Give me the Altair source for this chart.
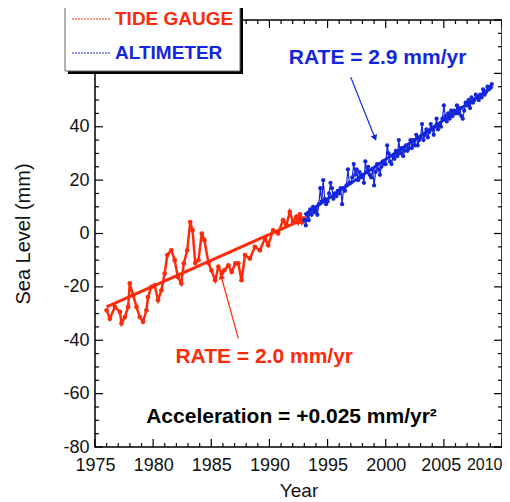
import altair as alt
import pandas as pd

W, H = 407, 427
RED = "#ff2a0a"
BLUE = "#1426dc"
FONT = "Liberation Sans"

# ---- tide gauge record (year, mm) ----
TG_YEARS = [1976.00, 1976.28, 1976.71, 1977.14, 1977.28, 1977.57, 1977.85, 1977.99,
            1978.28, 1978.57, 1978.85, 1979.13, 1979.42, 1979.56, 1979.84, 1980.13,
            1980.42, 1980.71, 1980.99, 1981.22, 1981.56, 1981.85, 1982.13, 1982.42,
            1982.64, 1982.93, 1983.19, 1983.39, 1983.62, 1983.90, 1984.18, 1984.41,
            1984.76, 1985.01, 1985.33, 1985.61, 1985.89, 1986.12, 1986.47, 1986.75,
            1987.07, 1987.32, 1987.60, 1987.90, 1988.32, 1988.75, 1989.18, 1989.61,
            1989.89, 1990.32, 1990.75, 1991.17, 1991.46, 1991.75, 1992.03, 1992.31,
            1992.46, 1992.63, 1992.80, 1992.97]
TG_MM = [-28.8, -31.9, -27.5, -29.4, -33.7, -31.3, -27.5, -18.7,
         -23.1, -27.5, -31.3, -33.1, -28.8, -23.8, -20.0, -19.4,
         -25.0, -21.3, -15.0, -8.1, -6.3, -10.0, -16.3, -18.7,
         -11.2, -6.3, 4.3, 1.2, -11.1, -10.0, 0.0, -2.5,
         -11.1, -13.8, -17.5, -12.5, -15.0, -13.8, -11.9, -14.4,
         -11.2, -11.2, -17.5, -8.1, -9.4, -5.0, -6.3, -1.9,
         -4.4, 1.2, 0.0, 5.0, 3.1, 8.1, 4.3, 6.2,
         4.2, 7.2, 4.2, 5.7]

# ---- altimeter record: 8 samples per year from 1993.0 ----
ALT_START = 1993.0
ALT_STEP = 0.125
ALT_MM = [5, 3, 7, 5, 9, 7, 10, 8,           # 1993
          9, 7, 11, 17, 12, 20, 13, 11,      # 1994
          12, 15, 19, 17, 13, 15, 14, 16,    # 1995
          15, 17, 11, 17, 16, 18, 24, 19,    # 1996
          19, 21, 26, 22, 24, 20, 23, 21,    # 1997
          22, 19, 27, 23, 25, 22, 21, 24,    # 1998
          18, 23, 26, 24, 22, 25, 27, 26,    # 1999
          26, 33, 30, 27, 26, 29, 28, 31,    # 2000
          29, 35, 30, 32, 29, 31, 33, 31,    # 2001
          32, 35, 32, 35, 33, 37, 33, 35,    # 2002
          36, 41, 35, 37, 39, 36, 38, 41,    # 2003
          39, 37, 40, 43, 39, 41, 40, 43,    # 2004
          48, 44, 42, 45, 43, 46, 44, 46,    # 2005
          45, 48, 45, 47, 44, 43, 46, 49,    # 2006
          48, 50, 47, 51, 49, 50, 52, 51,    # 2007
          50, 52, 51, 54, 52, 53, 55, 54,    # 2008
          55, 56]                            # 2009

# ---- fitted trend lines (end points) ----
TG_FIT_YEARS = [1976.0, 1993.0]
TG_FIT_MM = [-27.5, 5.5]
ALT_FIT_YEARS = [1993.0, 2009.2]
ALT_FIT_MM = [7.0, 55.0]

# ---- axes ----
X_LABELS = [1975, 1980, 1985, 1990, 1995, 2000, 2005, 2010]
X_MINOR = list(range(1975, 2011))
Y_LABELS = [-80, -60, -40, -20, 0, 20, 40]
Y_MAJOR = [-80, -60, -40, -20, 0, 20, 40, 60, 80]
Y_MINOR = list(range(-80, 81, 5))

# ---- annotations ----
ANN_TEXT = ["RATE = 2.9 mm/yr", "RATE = 2.0 mm/yr", "Acceleration = +0.025 mm/yr²"]
ANN_X = [1999.3, 1989.55, 1991.9]
ANN_Y = [65.7, -46.4, -68.6]
ANN_COLOR = [BLUE, RED, "#000000"]

ARROW_X = [1996.99, 1987.32]
ARROW_Y = [58.6, -39.3]
ARROW_X2 = [1999.05, 1985.87]
ARROW_Y2 = [36.1, -16.4]
ARROW_ANGLE = [158, 344]
ARROW_COLOR = [BLUE, RED]

xs = alt.Scale(domain=[1975, 2010], nice=False, zero=False)
ys = alt.Scale(domain=[-80, 80], nice=False, zero=False)
xaxis = alt.Axis(title="Year", values=X_LABELS, labelExpr="'' + datum.value",
                 labelOverlap=False, labelFlush=False, labelPadding=9,
                 labelAlign=alt.ConditionalAxisLabelAlign(
                     condition={"test": "datum.value >= 2010", "value": "right"},
                     value="center"),
                 labelFontSize=alt.ConditionalAxisNumber(
                     condition={"test": "datum.value >= 2010", "value": 16},
                     value=18),
                 labelOffset=alt.ConditionalAxisNumber(
                     condition={"test": "datum.value == 2005", "value": -3},
                     value=0),
                 titlePadding=7, titleFontSize=19)
yaxis = alt.Axis(title="Sea Level (mm)", values=Y_LABELS, labelExpr="'' + datum.value",
                 labelOverlap=False, labelFlush=False, labelPadding=6,
                 titlePadding=29, labelFontSize=18, titleFontSize=20)


def ex(f="x"):
    return alt.X(f"{f}:Q", scale=xs, axis=xaxis)


def ey(f="y"):
    return alt.Y(f"{f}:Q", scale=ys, axis=yaxis)


tg = pd.DataFrame({"x": TG_YEARS, "y": TG_MM})
alt_df = pd.DataFrame({"x": [ALT_START + i * ALT_STEP for i in range(len(ALT_MM))], "y": ALT_MM})
tg_fit = pd.DataFrame({"x": TG_FIT_YEARS, "y": TG_FIT_MM})
alt_fit = pd.DataFrame({"x": ALT_FIT_YEARS, "y": ALT_FIT_MM})

xmaj = pd.DataFrame({"x": X_LABELS})
xmin = pd.DataFrame({"x": [v for v in X_MINOR if v not in X_LABELS]})
ymaj = pd.DataFrame({"y": Y_MAJOR})
ymin = pd.DataFrame({"y": [v for v in Y_MINOR if v not in Y_MAJOR]})

layers = []
# fit lines and data
layers.append(alt.Chart(tg).mark_line(color=RED, strokeWidth=2.5).encode(x=ex(), y=ey()))
layers.append(alt.Chart(tg_fit).mark_line(color=RED, strokeWidth=3).encode(x=ex(), y=ey()))
layers.append(alt.Chart(tg).mark_point(color=RED, filled=True, size=22, opacity=1).encode(x=ex(), y=ey()))
layers.append(alt.Chart(alt_fit).mark_line(color=BLUE, strokeWidth=3).encode(x=ex(), y=ey()))
layers.append(alt.Chart(alt_df).mark_line(color=BLUE, strokeWidth=1.2).encode(x=ex(), y=ey()))
layers.append(alt.Chart(alt_df).mark_point(color=BLUE, filled=True, size=18, opacity=1).encode(x=ex(), y=ey()))

# inward ticks on all four sides
for df, ln in [(xmaj, 8), (xmin, 4)]:
    layers.append(alt.Chart(df).mark_rule(color="black", strokeWidth=1.2).encode(
        x=ex(), y=alt.value(H), y2=alt.value(H - ln)))
    layers.append(alt.Chart(df).mark_rule(color="black", strokeWidth=1.2).encode(
        x=ex(), y=alt.value(0), y2=alt.value(ln)))
for df, ln in [(ymaj, 8), (ymin, 4)]:
    layers.append(alt.Chart(df).mark_rule(color="black", strokeWidth=1.2).encode(
        y=ey(), x=alt.value(0), x2=alt.value(ln)))
    layers.append(alt.Chart(df).mark_rule(color="black", strokeWidth=1.2).encode(
        y=ey(), x=alt.value(W), x2=alt.value(W - ln)))

# annotations
ann = pd.DataFrame({"x": ANN_X, "y": ANN_Y, "t": ANN_TEXT, "c": ANN_COLOR})
layers.append(alt.Chart(ann).mark_text(font=FONT, fontSize=21, fontWeight="bold",
                                       align="center", baseline="middle").encode(
    x=ex(), y=ey(), text="t:N", color=alt.Color("c:N", scale=None)))

arr = pd.DataFrame({"x": ARROW_X, "y": ARROW_Y, "x2": ARROW_X2, "y2": ARROW_Y2,
                    "a": ARROW_ANGLE, "c": ARROW_COLOR})
layers.append(alt.Chart(arr).mark_rule(strokeWidth=1.2).encode(
    x=ex(), y=ey(), x2="x2:Q", y2="y2:Q", color=alt.Color("c:N", scale=None)))
layers.append(alt.Chart(arr).mark_point(shape="triangle", filled=True, size=45, opacity=1).encode(
    x=ex("x2"), y=ey("y2"), angle=alt.Angle("a:Q", scale=None), color=alt.Color("c:N", scale=None)))

# legend box (with shadow), drawn in pixel space
one = pd.DataFrame({"k": [0]})
layers.append(alt.Chart(one).mark_rect(fill="black").encode(
    x=alt.value(-27), x2=alt.value(148), y=alt.value(-30), y2=alt.value(54)))
layers.append(alt.Chart(one).mark_rect(fill="white", stroke="#666", strokeWidth=1).encode(
    x=alt.value(-30), x2=alt.value(145), y=alt.value(-30), y2=alt.value(51)))
LEG_LABELS = ["TIDE GAUGE", "ALTIMETER"]
LEG_COLORS = [RED, BLUE]
LEG_Y = [-1, 33]
leg = pd.DataFrame({"t": LEG_LABELS, "c": LEG_COLORS, "py": LEG_Y})
layers.append(alt.Chart(leg).mark_rule(strokeWidth=1.2, strokeDash=[2, 1]).encode(
    x=alt.value(-23), x2=alt.value(15), y=alt.Y("py:Q", scale=None, axis=None),
    color=alt.Color("c:N", scale=None)))
layers.append(alt.Chart(leg).mark_text(font=FONT, fontSize=19, fontWeight="bold", align="left",
                                       baseline="middle").encode(
    x=alt.value(20), y=alt.Y("py:Q", scale=None, axis=None), text="t:N",
    color=alt.Color("c:N", scale=None)))

chart = alt.layer(*layers).properties(
    width=W, height=H,
    autosize=alt.AutoSizeParams(type="none"),
    padding={"left": 87, "top": 12, "right": 0, "bottom": 55},
    background="white",
).configure_view(stroke="black", strokeWidth=1.5).configure_axis(
    grid=False, ticks=False, domain=False, labelFont=FONT, titleFont=FONT,
    labelColor="#111", titleColor="#111", titleFontWeight="normal",
)

chart.save("out.html", embed_options={"renderer": "svg", "actions": False})
